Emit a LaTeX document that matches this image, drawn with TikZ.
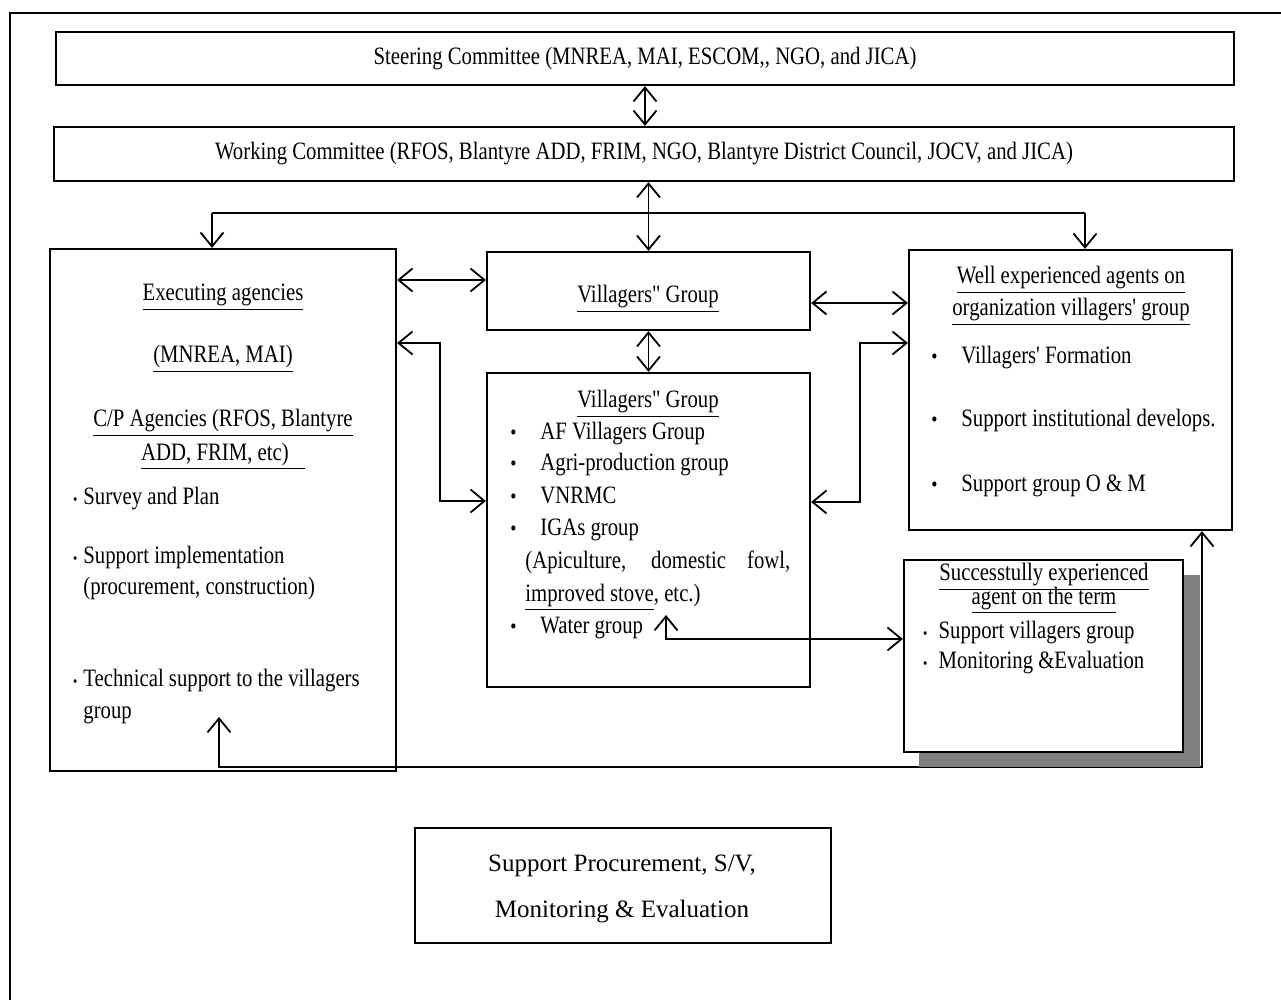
\documentclass[tikz,border=0pt]{standalone}
\usepackage{fontspec}
\usetikzlibrary{arrows.meta,fit}
\newfontfamily\condfont[FakeStretch=0.83]{Liberation Serif}
\newfontfamily\plainfont{Liberation Serif}
\newcommand{\bul}{\makebox[16pt][l]{\hspace{1pt}\scalebox{0.85}{\textbullet}}}
\newcommand{\dotm}{\makebox[8pt][c]{\scalebox{0.6}{\textbullet}}}

\tikzstyle{box} = [draw, line width=1.1pt, inner sep=0pt]
\tikzstyle{shade} = [fill=black!50, inner sep=0pt]
\tikzstyle{txt} = [inner sep=0pt, font=\condfont\fontsize{12.5pt}{15pt}\selectfont, text height=8.5pt, text depth=2.5pt]
\tikzstyle{item} = [txt, anchor=west]
\tikzstyle{link} = [line width=0.9pt, {Straight Barb[length=7pt,width=11.5pt]}-{Straight Barb[length=7pt,width=11.5pt]}]
\tikzstyle{tip} = [line width=0.9pt, -{Straight Barb[length=7pt,width=11.5pt]}]

\begin{document}
\begin{tikzpicture}[x=0.5pt, y=-0.5pt]
\useasboundingbox (0,0) rectangle (1281,1000);
\draw[line width=1.4pt] (10,1020) -- (10,13) -- (1300,13);

\node[box, fit={(56,32) (1234,85)}] (steer) {};
\node[txt] (steertxt) at (steer.center) {Steering Committee (MNREA, MAI, ESCOM,, NGO, and JICA)};
\node[box, fit={(54,127) (1234,181)}] (work) {};
\node[txt] (worktxt) at (work.center) {Working Committee (RFOS, Blantyre ADD, FRIM, NGO, Blantyre District Council, JOCV, and JICA)};

\node[box, fit={(50,249) (396,771)}] (exec) {};
\node[box, fit={(487,252) (810,330)}] (vgtop) {};
\node[box, fit={(487,373) (810,687)}] (vglow) {};
\node[box, fit={(909,250) (1232,530)}] (well) {};
\node[box, fit={(415,828) (831,943)}] (proc) {};

\coordinate (brL) at (212,213);
\coordinate (brR) at (1085,213);
\coordinate (wt) at (666,615);
\coordinate (lt) at (219,717);
\coordinate (lc) at (1202,767);

\draw[link] (steer.south) -- (steer.south |- work.north);
\draw[link] (vgtop.north |- work.south) -- (vgtop.north);
\draw[line width=0.9pt] (brL) -- (brR);
\draw[tip] (brL) -- (brL |- exec.north);
\draw[tip] (brR) -- (brR |- well.north);
\draw[link] (exec.east |- 0,280) -- (vgtop.west |- 0,280);
\draw[link] (exec.east |- 0,343) -- (440,343) -- (440,501) -- (vglow.west |- 0,501);
\draw[link] (vgtop.east |- 0,303) -- (well.west |- 0,303);
\draw[link] (vglow.east |- 0,502) -- (860,502) -- (860,343) -- (well.west |- 0,343);
\draw[link] (vgtop.south) -- (vglow.north);
\draw[link] (lt) |- (lc) -- (lc |- well.south);

\node[shade, fit={(919,575) (1200,767)}] (succshade) {};
\node[box, fill=white, fit={(904,560) (1183,752)}] (succ) {};
\draw[link] (wt) |- (succ.west |- 0,639);

\node[txt] (exec1) at (223,295) {\underline{Executing agencies}};
\node[txt] (exec2) at (223,357) {\underline{(MNREA, MAI)}};
\node[txt] (exec3) at (223,421) {\underline{C/P Agencies (RFOS, Blantyre}};
\node[txt] (exec4) at (223,454) {\underline{ADD, FRIM, etc)\hspace{8pt}}};
\node[item] (exec5) at (67,498) {\dotm Survey and Plan};
\node[item] (exec6) at (67,557) {\dotm Support implementation};
\node[item] (exec7) at (83,588) {(procurement, construction)};
\node[item] (exec8) at (67,680) {\dotm Technical support to the villagers};
\node[item] (exec9) at (83,712) {group};

\node[txt] (vgtoptxt) at (648,297) {\underline{Villagers" Group}};

\node[txt] (vglow0) at (648,402) {\underline{Villagers" Group}};
\node[item] (vglow1) at (508,433) {\bul AF Villagers Group};
\node[item] (vglow2) at (508,465) {\bul Agri-production group};
\node[item] (vglow3) at (508,497) {\bul VNRMC};
\node[item] (vglow4) at (508,529) {\bul IGAs group};
\node[item] (vglow5) at (525,562) {\makebox[132.5pt][s]{(Apiculture, domestic fowl,}};
\node[item] (vglow6) at (525,595) {\underline{improved stove}, etc.)};
\node[item] (vglow7) at (508,627) {\bul Water group};

\node[txt] (well0) at (1071,278) {\underline{Well experienced agents on}};
\node[txt] (well1) at (1071,310) {\underline{organization villagers' group}};
\node[item] (well2) at (929,358) {\bul Villagers' Formation};
\node[item] (well3) at (929,421) {\bul Support institutional develops.};
\node[item] (well4) at (929,485) {\bul Support group O \& M};

\node[txt] (succ0) at (1044,575) {\underline{Successtully experienced}};
\node[txt] (succ1) at (1044,598) {\underline{agent on the term}};
\node[item] (succ2) at (917,632) {\dotm\ Support villagers group};
\node[item] (succ3) at (917,662) {\dotm\ Monitoring \&Evaluation};

\node[txt, font=\plainfont\fontsize{12.5pt}{15pt}\selectfont] (proc0) at (622,865) {Support Procurement, S/V,};
\node[txt, font=\plainfont\fontsize{12.5pt}{15pt}\selectfont] (proc1) at (622,911) {Monitoring \& Evaluation};
\end{tikzpicture}
\end{document}
